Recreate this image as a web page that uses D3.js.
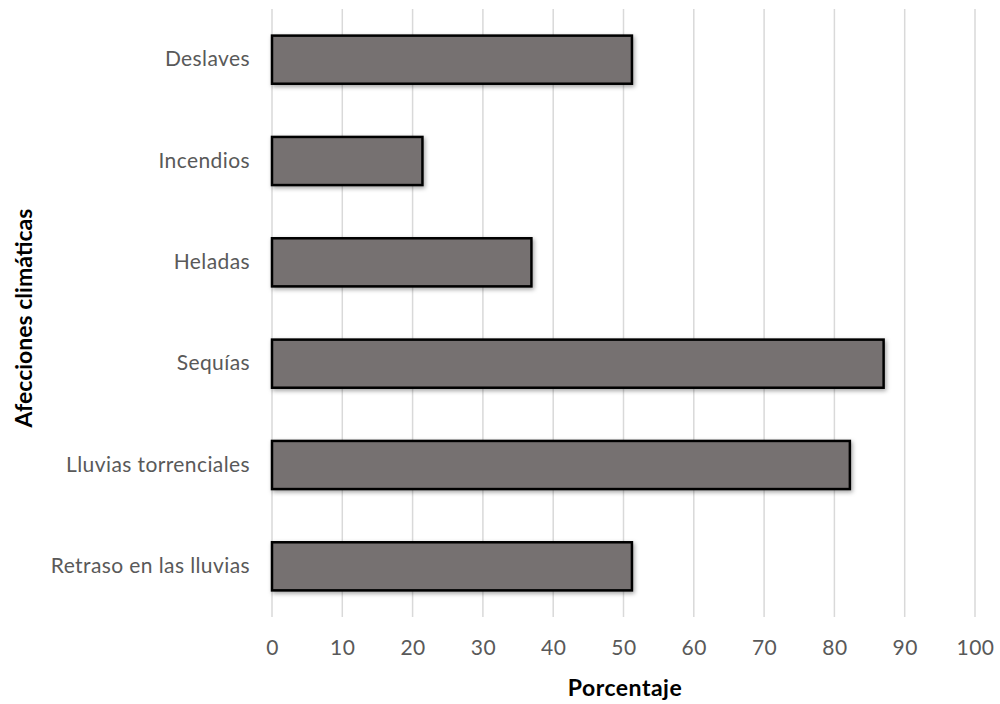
<!DOCTYPE html>
<html><head><meta charset="utf-8">
<script src="https://cdn.jsdelivr.net/npm/d3@7"></script>
<style>body{margin:0;background:#fff}svg{display:block}</style>
</head><body>
<script>
const categories = ["Deslaves","Incendios","Heladas","Sequías","Lluvias torrenciales","Retraso en las lluvias"];
const values = [51.2, 21.4, 36.9, 87.0, 82.2, 51.2];
const xTicks = [0,10,20,30,40,50,60,70,80,90,100];
const xTitle = "Porcentaje";
const yTitle = "Afecciones climáticas";

const W = 1000, H = 704;
const m = {left: 272, right: 25, top: 9, bottom: 87};
const svg = d3.select("body").append("svg").attr("width", W).attr("height", H);
const defs = svg.append("defs");
const f = defs.append("filter").attr("id","sh").attr("x","-5%").attr("y","-20%").attr("width","115%").attr("height","150%");
f.append("feDropShadow").attr("dx",1.5).attr("dy",2).attr("stdDeviation",2).attr("flood-color","#000").attr("flood-opacity",0.35);

const x = d3.scaleLinear().domain([0,100]).range([m.left, W - m.right]);
const y = d3.scaleBand().domain(categories).range([m.top, H - m.bottom]).paddingInner(0.525).paddingOuter(0.2625);

const font = "Lato, 'Open Sans', sans-serif";

// gridlines
svg.append("g").selectAll("line").data(xTicks).join("line")
  .attr("x1", d => x(d)).attr("x2", d => x(d))
  .attr("y1", m.top).attr("y2", H - m.bottom)
  .attr("stroke", "#d9d9d9").attr("stroke-width", 1.5);

// x tick labels
const xa = svg.append("g").attr("transform", `translate(0,${H - m.bottom})`)
  .call(d3.axisBottom(x).tickValues(xTicks).tickSize(0).tickPadding(23));
xa.select(".domain").remove();
xa.selectAll("text").attr("font-family", font).attr("font-size", 21).attr("letter-spacing", 0.5).attr("fill", "#595959");

// y labels
const ya = svg.append("g").attr("transform", `translate(${m.left},0)`)
  .call(d3.axisLeft(y).tickSize(0).tickPadding(22));
ya.select(".domain").remove();
ya.selectAll("text").attr("font-family", font).attr("font-size", 21).attr("letter-spacing", 0.4).attr("fill", "#595959");

// bars
svg.append("g").selectAll("rect").data(categories).join("rect")
  .attr("x", x(0)).attr("y", d => y(d))
  .attr("width", (d,i) => x(values[i]) - x(0)).attr("height", y.bandwidth())
  .attr("fill", "#767171").attr("stroke", "#000").attr("stroke-width", 2.5)
  .attr("filter", "url(#sh)");

// titles
svg.append("text").attr("x", 625).attr("y", 696)
  .attr("text-anchor","middle").attr("font-family", font).attr("font-weight","bold")
  .attr("font-size", 23).attr("letter-spacing", 0.5).attr("fill","#000").text(xTitle);
svg.append("text").attr("transform", `translate(32,${(m.top + H - m.bottom)/2 + 5}) rotate(-90)`)
  .attr("text-anchor","middle").attr("font-family", font).attr("font-weight","bold")
  .attr("font-size", 23).attr("fill","#000").text(yTitle);
</script>
</body></html>
